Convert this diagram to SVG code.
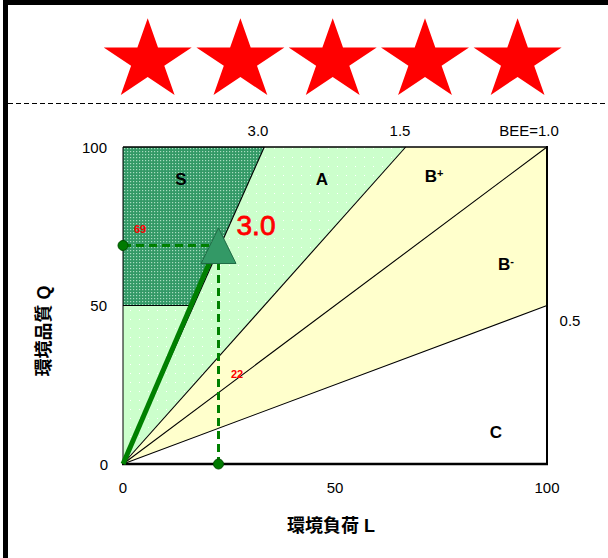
<svg xmlns="http://www.w3.org/2000/svg" width="608" height="558" viewBox="0 0 608 558">
<style>
.t{font-family:"Liberation Sans","Noto Sans CJK JP",sans-serif;font-size:15px;fill:#000}
.b{font-family:"Liberation Sans","Noto Sans CJK JP",sans-serif;font-size:17px;font-weight:bold;fill:#000}
.ax{font-family:"Liberation Sans","Noto Sans CJK JP",sans-serif;font-size:18px;font-weight:bold;fill:#000}
.r{font-family:"Liberation Sans",sans-serif;fill:#ff0000}
.ln{stroke:#000;stroke-width:1.1;fill:none}
.dash{stroke:#008000;stroke-width:3;stroke-dasharray:8 5;fill:none}
</style>
<defs>
<pattern id="pS" width="3" height="3" patternUnits="userSpaceOnUse">
<rect width="3" height="3" fill="#339966"/>
<rect x="1" y="1" width="1.2" height="1.2" fill="#a8dcc0"/>
</pattern>
<pattern id="pA" width="9" height="9" patternUnits="userSpaceOnUse">
<rect width="9" height="9" fill="#ccffcc"/>
<rect x="4" y="4" width="1" height="1" fill="#ffffff"/>
</pattern>
<path id="star" d="M0,-42.4 L10.3,-13.1 L44,-13.1 L16.6,5 L26.9,34.3 L0,16.2 L-26.9,34.3 L-16.6,5 L-44,-13.1 L-10.3,-13.1 Z" fill="#ff0000"/>
</defs>
<rect width="608" height="558" fill="#fff"/>
<g id="frame">
<rect x="3" y="0" width="605" height="5" fill="#000"/>
<rect x="3" y="0" width="5" height="558" fill="#000"/>
<line x1="8" y1="103.5" x2="608" y2="103.5" stroke="#000" stroke-width="1.2" stroke-dasharray="5 3"/>
</g>
<g id="stars">
<use href="#star" x="147.7" y="60.7"/>
<use href="#star" x="240.4" y="60.7"/>
<use href="#star" x="332.7" y="60.7"/>
<use href="#star" x="425" y="60.7"/>
<use href="#star" x="517.6" y="60.7"/>
</g>
<g id="regions">
<polygon id="regionA" points="123,464 123,147 405.7,147" fill="url(#pA)"/>
<polygon id="regionB" points="123,464 405.7,147 547,147 547,305.5" fill="#ffffcc"/>
<polygon id="regionS" points="123,147 264.3,147 193.7,305.5 123,305.5" fill="url(#pS)"/>
</g>
<g id="connectors">
<line class="ln" x1="123" y1="464" x2="264.3" y2="147"/>
<line class="ln" x1="123" y1="464" x2="405.7" y2="147"/>
<line class="ln" x1="123" y1="464" x2="547" y2="147"/>
<line class="ln" x1="123" y1="464" x2="547" y2="305.5"/>
<line class="ln" x1="123" y1="305.5" x2="193.7" y2="305.5"/>
<line x1="123" y1="147" x2="547" y2="147" stroke="#000" stroke-width="1.5"/>
<line x1="547" y1="146" x2="547" y2="465" stroke="#000" stroke-width="2"/>
<line x1="123" y1="147" x2="123" y2="464" stroke="#000" stroke-width="1"/>
<line x1="122" y1="464" x2="548" y2="464" stroke="#000" stroke-width="2.5"/>
<line class="dash" x1="123" y1="245.5" x2="213" y2="245.5"/>
<line class="dash" x1="218.5" y1="262" x2="218.5" y2="462"/>
<line x1="123" y1="464" x2="214" y2="252" stroke="#008000" stroke-width="5"/>
</g>
<g id="marker">
<polygon points="218.5,228 201,263.5 236,263.5" fill="#339966" stroke="#1f6b45" stroke-width="1"/>
<circle cx="123" cy="245.5" r="5" fill="#007a00" stroke="#004d00" stroke-width="1"/>
<circle cx="218.5" cy="464" r="5" fill="#007a00" stroke="#004d00" stroke-width="1"/>
</g>
<g id="labels">
<text class="b" x="181" y="185" text-anchor="middle">S</text>
<text class="b" x="322" y="185" text-anchor="middle">A</text>
<text class="b" x="434" y="182" text-anchor="middle">B<tspan font-size="11" dy="-5">+</tspan></text>
<text class="b" x="506" y="270" text-anchor="middle">B<tspan font-size="11" dy="-5">-</tspan></text>
<text class="b" x="496" y="438" text-anchor="middle">C</text>
<text class="r" x="256" y="235" text-anchor="middle" font-size="28" stroke="#ff0000" stroke-width="0.8">3.0</text>
<text class="r" x="134" y="233" font-size="11" font-weight="bold">69</text>
<text class="r" x="231" y="378" font-size="11" font-weight="bold">22</text>
</g>
<g id="ticks">
<text class="t" x="258" y="136" text-anchor="middle">3.0</text>
<text class="t" x="400" y="136" text-anchor="middle">1.5</text>
<text class="t" x="529" y="136" text-anchor="middle">BEE=1.0</text>
<text class="t" x="570" y="326" text-anchor="middle">0.5</text>
<text class="t" x="107" y="153" text-anchor="end">100</text>
<text class="t" x="107" y="311" text-anchor="end">50</text>
<text class="t" x="108" y="470" text-anchor="end">0</text>
<text class="t" x="123" y="493" text-anchor="middle">0</text>
<text class="t" x="335" y="493" text-anchor="middle">50</text>
<text class="t" x="547" y="493" text-anchor="middle">100</text>
</g>
<g id="axis-titles">
<text class="ax" x="331" y="532" text-anchor="middle">環境負荷 L</text>
<text class="ax" transform="translate(50,331) rotate(-90)" text-anchor="middle">環境品質 Q</text>
</g>
</svg>
